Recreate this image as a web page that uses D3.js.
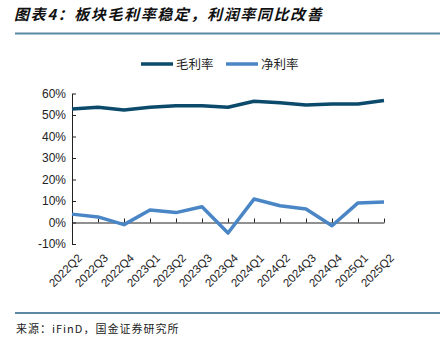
<!DOCTYPE html>
<html><head><meta charset="utf-8">
<script src="https://cdn.jsdelivr.net/npm/d3@7"></script>
<style>body{margin:0;background:#fff}svg{display:block}</style>
</head><body>
<script>
const categories = ["2022Q2","2022Q3","2022Q4","2023Q1","2023Q2","2023Q3","2023Q4","2024Q1","2024Q2","2024Q3","2024Q4","2025Q1","2025Q2"];
const grossMargin = [52.8,53.6,52.3,53.6,54.3,54.3,53.6,56.4,55.7,54.7,55.1,55.1,56.7];
const netMargin = [3.9,2.6,-1.0,5.8,4.6,7.3,-4.9,10.9,7.8,6.3,-1.5,9.1,9.5];
const yTicks = [-10,0,10,20,30,40,50,60];
const seriesNames = ["毛利率","净利率"];
const colors = ["#0b4a6b","#4a86c6"];

const W=443,H=343;
const svg=d3.select("body").append("svg").attr("width",W).attr("height",H);
const font="'Noto Sans CJK SC','Noto Sans',sans-serif";

svg.append("text").attr("x",14).attr("y",20).attr("font-family",font).attr("font-size",15)
  .attr("font-weight","bold").attr("font-style","italic").attr("fill","#111").attr("letter-spacing",1.6)
  .text("图表4：板块毛利率稳定，利润率同比改善");
svg.append("line").attr("x1",15).attr("x2",440).attr("y1",33.5).attr("y2",33.5).attr("stroke","#5b88a2").attr("stroke-width",2);

const x=d3.scalePoint().domain(categories).range([72,384]);
const y=d3.scaleLinear().domain([-10,60]).range([244,93.5]);

const ya=svg.append("g").attr("transform","translate(72,0)")
  .call(d3.axisLeft(y).tickValues(yTicks).tickFormat(d=>d+"%").tickSize(4).tickSizeOuter(0));
ya.select(".domain").attr("stroke","#222");
ya.selectAll(".tick line").attr("stroke","#222").attr("x2",4).attr("x1",0);
ya.selectAll(".tick text").attr("font-family","'Liberation Sans',Arial,sans-serif").attr("font-size",12).attr("fill","#222").attr("x",-6);

const xa=svg.append("g").attr("transform",`translate(0,${y(0)})`)
  .call(d3.axisBottom(x).tickSize(-4).tickSizeOuter(0).tickFormat(""));
xa.select(".domain").attr("stroke","#222");
xa.selectAll(".tick line").attr("stroke","#222");

const lab=svg.append("g");
categories.forEach(c=>{
  lab.append("text").attr("transform",`translate(${x(c)+5},253) rotate(-45)`)
    .attr("text-anchor","end").attr("dy","0.7em")
    .attr("font-family","'Liberation Sans',Arial,sans-serif").attr("font-size",11.5).attr("fill","#222").text(c);
});

const line=d3.line().x((d,i)=>x(categories[i])).y(d=>y(d));
[grossMargin,netMargin].forEach((s,k)=>{
  svg.append("path").datum(s).attr("d",line).attr("fill","none").attr("stroke",colors[k])
    .attr("stroke-width",3.5).attr("stroke-linejoin","round");
});

// legend
const lg=[{x1:141,x2:173,tx:176},{x1:226,x2:258,tx:261}];
lg.forEach((l,k)=>{
  svg.append("line").attr("x1",l.x1).attr("x2",l.x2).attr("y1",64).attr("y2",64).attr("stroke",colors[k]).attr("stroke-width",3.5);
  svg.append("text").attr("x",l.tx).attr("y",68.5).attr("font-family",font).attr("font-size",12.5).attr("fill","#222").text(seriesNames[k]);
});

svg.append("line").attr("x1",15).attr("x2",440).attr("y1",313).attr("y2",313).attr("stroke","#5b88a2").attr("stroke-width",2);
svg.append("text").attr("x",16).attr("y",333).attr("font-family",font).attr("font-size",11).attr("fill","#222").attr("letter-spacing",1)
  .text("来源：iFinD，国金证券研究所");
</script>
</body></html>
